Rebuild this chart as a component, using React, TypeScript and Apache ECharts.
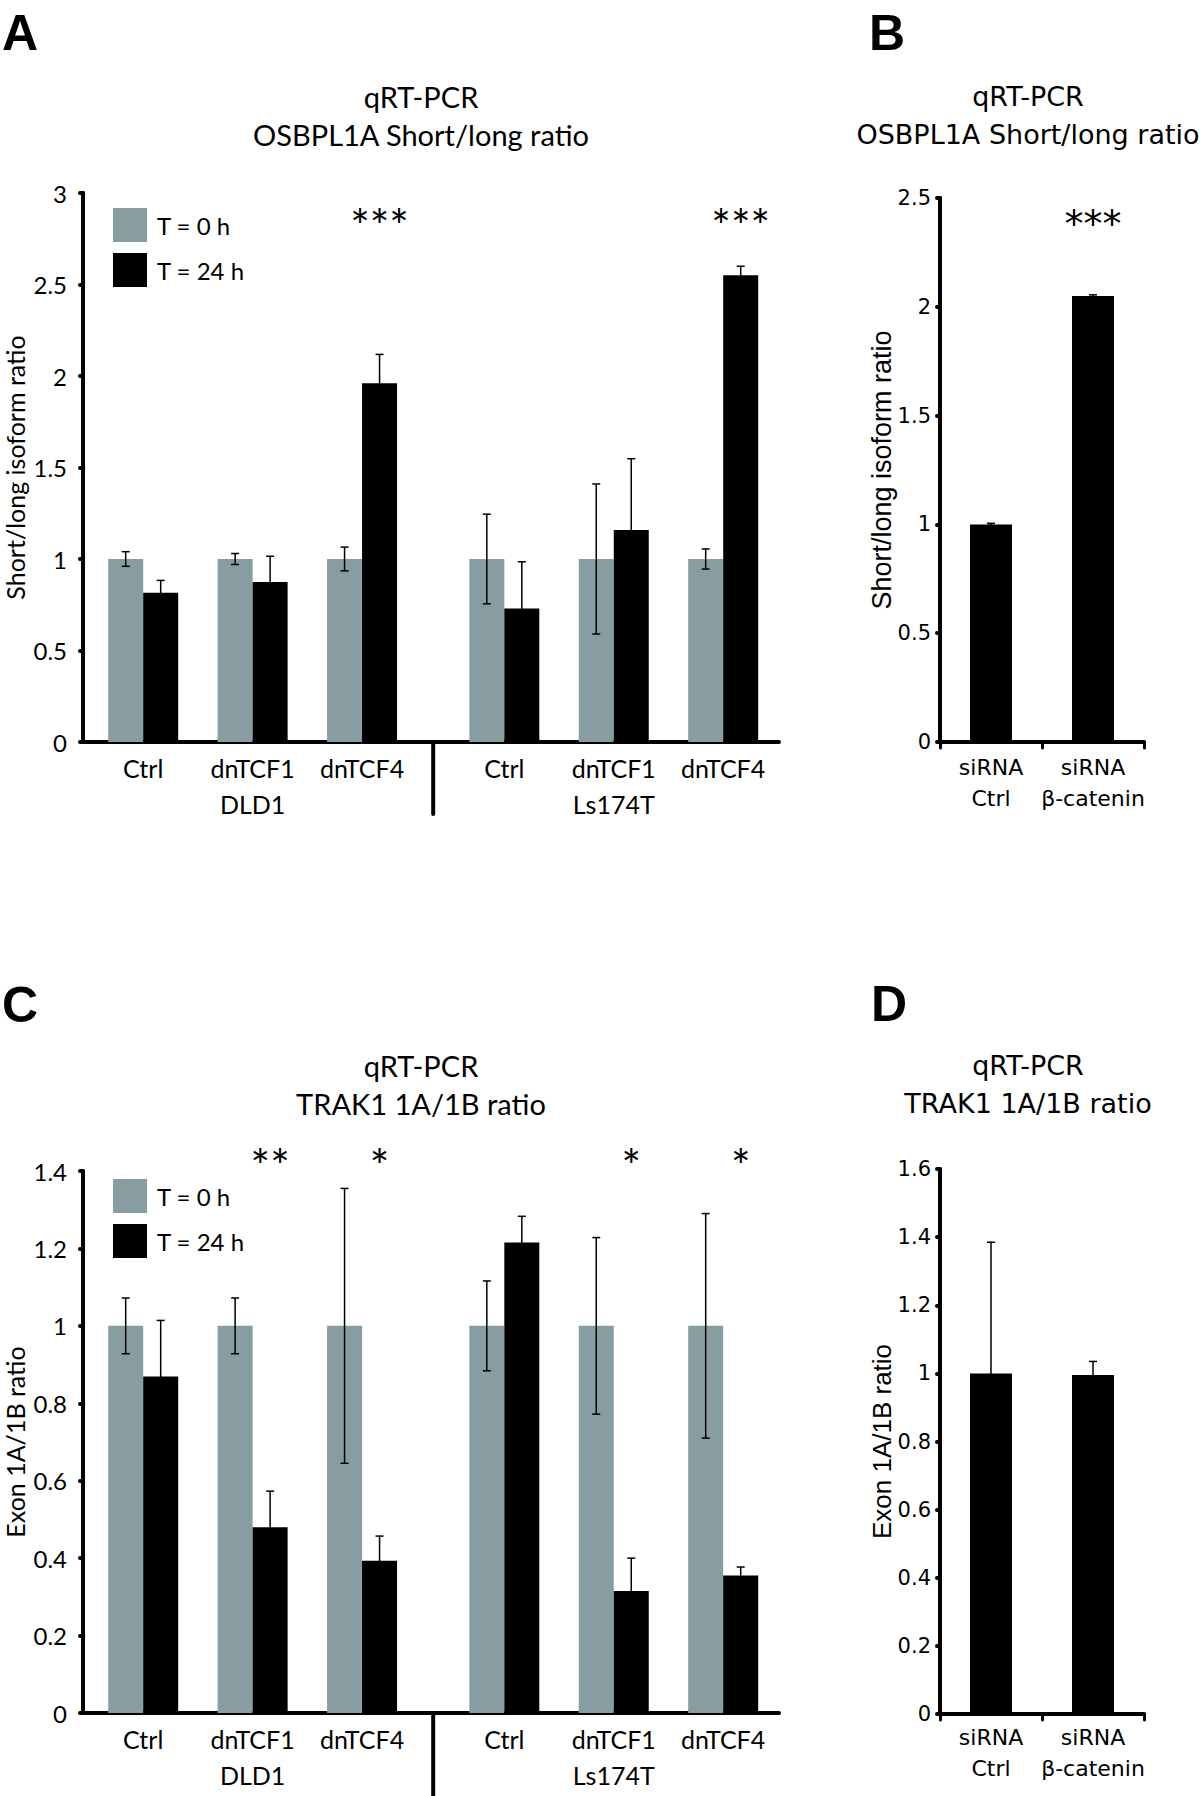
import React, { useEffect, useRef } from "react";
import * as echarts from "echarts";

// ---------- data ----------
const groupLabels = ["Ctrl", "dnTCF1", "dnTCF4", "Ctrl", "dnTCF1", "dnTCF4"];
const cellLineLabels = ["", "DLD1", "", "", "Ls174T", ""];
const groupPos = [0.55, 1.55, 2.55, 3.85, 4.85, 5.85];
const separatorPos = [3.2];
const seriesNames = ["T = 0 h", "T = 24 h"];

// Panel A: OSBPL1A short/long ratio
const osbT0 = [1, 1, 1, 1, 1, 1];
const osbT0Err = [0.04, 0.03, 0.065, 0.245, 0.41, 0.055];
const osbT24 = [0.815, 0.875, 1.96, 0.73, 1.158, 2.55];
const osbT24Err = [0.068, 0.14, 0.158, 0.255, 0.39, 0.05];
const osbStars = ["", "", "***", "", "", "***"];

// Panel C: TRAK1 1A/1B ratio
const trakT0 = [1, 1, 1, 1, 1, 1];
const trakT0Err = [0.072, 0.072, 0.355, 0.116, 0.228, 0.29];
const trakT24 = [0.869, 0.48, 0.393, 1.215, 0.315, 0.355];
const trakT24Err = [0.145, 0.093, 0.064, 0.068, 0.085, 0.022];
const trakStars = ["", "**", "*", "", "*", "*"];

// Panels B / D: siRNA
const sirnaCats = ["siRNA\nCtrl", "siRNA\nβ-catenin"];
const osbSi = [1.0, 2.05];
const osbSiErr = [0.005, 0.005];
const osbSiStars = ["", "***"];
const trakSi = [1.0, 0.995];
const trakSiErr = [0.385, 0.04];

// axis scales
const yA = { min: 0, max: 3, interval: 0.5 };
const yB = { min: 0, max: 2.5, interval: 0.5 };
const yC = { min: 0, max: 1.4, interval: 0.2 };
const yD = { min: 0, max: 1.6, interval: 0.2 };
const xA = { min: 0, max: 6.36 };
const starLevelA = 2.82;
const starLevelB = 2.38;
const starLevelC = 1.415;

// ---------- styles ----------
const GRAY = "#889da1";
const BLACK = "#000000";
const FA = "Lato, 'Open Sans', sans-serif";
const FB = "'DejaVu Sans', Verdana, sans-serif";
const FN = "'Liberation Sans Narrow', 'Liberation Sans', sans-serif";
const FL = "'Liberation Sans', Arial, sans-serif";
const BW = 35;
const BW_SI = 42;
const CAP = 8;

function errorChildren(cx: number, yt: number, yb: number) {
  const st = { stroke: BLACK, lineWidth: 1.5 };
  return [
    { type: "line", shape: { x1: cx, y1: yt, x2: cx, y2: yb }, style: st },
    { type: "line", shape: { x1: cx - CAP / 2, y1: yt, x2: cx + CAP / 2, y2: yt }, style: st },
    { type: "line", shape: { x1: cx - CAP / 2, y1: yb, x2: cx + CAP / 2, y2: yb }, style: st },
  ];
}

function groupedSeries(name: string, color: string, side: number, axisIdx: number, vals: number[], errs: number[]) {
  return {
    type: "custom",
    name,
    xAxisIndex: axisIdx,
    yAxisIndex: axisIdx,
    clip: false,
    itemStyle: { color },
    encode: { x: 0, y: 1 },
    data: vals.map((v, i) => [groupPos[i], v, errs[i]]),
    renderItem: (params: any, api: any) => {
      const x = api.value(0);
      const v = api.value(1);
      const e = api.value(2);
      const p0 = api.coord([x, 0]);
      const p1 = api.coord([x, v]);
      const left = side < 0 ? p0[0] - BW : p0[0];
      const cx = left + BW / 2;
      const yt = api.coord([x, v + e])[1];
      const yb = api.coord([x, v - e])[1];
      return {
        type: "group",
        children: [
          { type: "rect", shape: { x: left, y: p1[1], width: BW, height: p0[1] - p1[1] }, style: { fill: color } },
          ...errorChildren(cx, yt, yb),
        ],
      };
    },
  };
}

function txt(text: string, x: number, y: number, size: number, family: string, extra: any = {}) {
  return {
    type: "text",
    x,
    y,
    style: {
      text,
      fontSize: size,
      fontFamily: family,
      fill: BLACK,
      align: "center",
      verticalAlign: "middle",
      textAlign: "center",
      textVerticalAlign: "middle",
      ...extra,
    },
  };
}

function labelSeries(axisIdx: number, sepLen: number) {
  return [
    {
      type: "custom",
      xAxisIndex: axisIdx,
      yAxisIndex: axisIdx,
      clip: false,
      silent: true,
      encode: { x: 0, y: 1 },
      data: groupPos.map((p) => [p, 0]),
      renderItem: (params: any, api: any) => {
        const i = params.dataIndex;
        const c = api.coord([api.value(0), 0]);
        const ch: any[] = [txt(groupLabels[i], c[0], c[1] + 26, 25, FA)];
        if (cellLineLabels[i]) ch.push(txt(cellLineLabels[i], c[0], c[1] + 62, 25, FA));
        return { type: "group", children: ch };
      },
    },
    {
      type: "custom",
      xAxisIndex: axisIdx,
      yAxisIndex: axisIdx,
      clip: false,
      silent: true,
      encode: { x: 0, y: 1 },
      data: separatorPos.map((p) => [p, 0]),
      renderItem: (params: any, api: any) => {
        const c = api.coord([api.value(0), 0]);
        return {
          type: "line",
          shape: { x1: c[0], y1: c[1], x2: c[0], y2: c[1] + sepLen },
          style: { stroke: BLACK, lineWidth: 4, lineCap: "round" },
        };
      },
    },
  ];
}

function starSeries(axisIdx: number, stars: string[], level: number, positions: number[], offset: number, family: string, size: number) {
  return {
    type: "custom",
    xAxisIndex: axisIdx,
    yAxisIndex: axisIdx,
    clip: false,
    silent: true,
    encode: { x: 0, y: 1 },
    data: positions.map((p) => [p, level]),
    renderItem: (params: any, api: any) => {
      const s = stars[params.dataIndex];
      if (!s) return null;
      const c = api.coord([api.value(0), api.value(1)]);
      return txt(s, c[0] + offset, c[1], size, family);
    },
  };
}

function siErrSeries(axisIdx: number, vals: number[], errs: number[]) {
  return {
    type: "custom",
    xAxisIndex: axisIdx,
    yAxisIndex: axisIdx,
    clip: false,
    silent: true,
    encode: { x: 0, y: 1 },
    data: vals.map((v, i) => [i, v, errs[i]]),
    renderItem: (params: any, api: any) => {
      const x = api.value(0);
      const v = api.value(1);
      const e = api.value(2);
      const cx = api.coord([x, v])[0];
      const yt = api.coord([x, v + e])[1];
      const yb = api.coord([x, v - e])[1];
      return { type: "group", children: errorChildren(cx, yt, yb) };
    },
  };
}

const axisLine = { show: true, lineStyle: { color: BLACK, width: 4, cap: "round" } };
const yTick = { show: true, length: 3, lineStyle: { color: BLACK, width: 4, cap: "round" } };

function yAxisCfg(gridIndex: number, sc: any, name: string, family: string, nameFamily: string, nameSize: number, labelSize: number, labelMargin: number, nameGap: number) {
  return {
    type: "value",
    gridIndex,
    min: sc.min,
    max: sc.max,
    interval: sc.interval,
    name,
    nameLocation: "middle",
    nameGap,
    nameRotate: 90,
    nameMoveOverlap: false,
    nameTextStyle: { fontFamily: nameFamily, fontSize: nameSize, color: BLACK },
    axisLine,
    axisTick: yTick,
    splitLine: { show: false },
    axisLabel: { fontFamily: family, fontSize: labelSize, color: BLACK, margin: labelMargin },
  };
}

function siXAxis(gridIndex: number, margin: number) {
  return {
    type: "category",
    gridIndex,
    data: sirnaCats,
    axisLine,
    axisTick: { show: true, length: 6, lineStyle: { color: BLACK, width: 3, cap: "round" } },
    axisLabel: { interval: 0, fontFamily: FB, fontSize: 22, color: BLACK, margin, lineHeight: 31 },
  };
}

function valXAxis(gridIndex: number) {
  return {
    type: "value",
    gridIndex,
    min: xA.min,
    max: xA.max,
    axisLine,
    axisTick: { show: false },
    axisLabel: { show: false },
    splitLine: { show: false },
  };
}

function legendCfg(top: number) {
  return {
    data: seriesNames,
    left: 113,
    top,
    orient: "vertical",
    itemWidth: 34,
    itemHeight: 34,
    itemGap: 11,
    icon: "rect",
    padding: 0,
    selectedMode: false,
    textStyle: { fontFamily: FA, fontSize: 24, color: BLACK, padding: [0, 0, 0, 5] },
  };
}

function gridCfg(left: number, top: number, width: number, height: number) {
  return { left, top, width, height, containLabel: false, outerBoundsMode: "none" };
}

export default function App() {
  const ref = useRef<HTMLDivElement>(null);
  useEffect(() => {
    if (!ref.current) return;
    const chart = echarts.init(ref.current, undefined, { renderer: "svg" });
    const option: any = {
      animation: false,
      backgroundColor: "#ffffff",
      grid: [
        gridCfg(83, 193, 696, 549),
        gridCfg(940, 198, 204, 544),
        gridCfg(83, 1171, 696, 542),
        gridCfg(940, 1169, 204, 545),
      ],
      xAxis: [valXAxis(0), siXAxis(1, 10), valXAxis(2), siXAxis(3, 8)],
      yAxis: [
        yAxisCfg(0, yA, "Short/long isoform ratio", FA, FA, 25, 24, 16, 56),
        yAxisCfg(1, yB, "Short/long isoform ratio", FB, FN, 27, 21, 9, 45),
        yAxisCfg(2, yC, "Exon 1A/1B ratio", FA, FA, 25, 24, 16, 56),
        yAxisCfg(3, yD, "Exon 1A/1B ratio", FB, FN, 26, 21, 9, 45),
      ],
      legend: [legendCfg(208), legendCfg(1179)],
      graphic: [
        txt("A", 20, 33, 50, FL, { fontWeight: "bold" }),
        txt("B", 887, 33, 50, FL, { fontWeight: "bold" }),
        txt("C", 20, 1005, 50, FL, { fontWeight: "bold" }),
        txt("D", 889, 1004, 50, FL, { fontWeight: "bold" }),
        txt("qRT-PCR", 421, 96, 29, FA),
        txt("OSBPL1A Short/long ratio", 421, 134, 29, FA),
        txt("qRT-PCR", 1028, 96, 27, FB),
        txt("OSBPL1A Short/long ratio", 1028, 134, 27, FB),
        txt("qRT-PCR", 421, 1065, 29, FA),
        txt("TRAK1 1A/1B ratio", 421, 1103, 29, FA),
        txt("qRT-PCR", 1028, 1065, 27, FB),
        txt("TRAK1 1A/1B ratio", 1028, 1103, 27, FB),
      ],
      series: [
        groupedSeries(seriesNames[0], GRAY, -1, 0, osbT0, osbT0Err),
        groupedSeries(seriesNames[1], BLACK, 1, 0, osbT24, osbT24Err),
        ...labelSeries(0, 72),
        starSeries(0, osbStars, starLevelA, groupPos, BW / 2, FA, 46),
        groupedSeries(seriesNames[0], GRAY, -1, 2, trakT0, trakT0Err),
        groupedSeries(seriesNames[1], BLACK, 1, 2, trakT24, trakT24Err),
        ...labelSeries(2, 86),
        starSeries(2, trakStars, starLevelC, groupPos, BW / 2, FA, 46),
        {
          type: "bar",
          name: "siRNA OSBPL1A",
          xAxisIndex: 1,
          yAxisIndex: 1,
          barWidth: BW_SI,
          itemStyle: { color: BLACK },
          data: osbSi,
        },
        siErrSeries(1, osbSi, osbSiErr),
        starSeries(1, osbSiStars, starLevelB, [0, 1], 0, FB, 38),
        {
          type: "bar",
          name: "siRNA TRAK1",
          xAxisIndex: 3,
          yAxisIndex: 3,
          barWidth: BW_SI,
          itemStyle: { color: BLACK },
          data: trakSi,
        },
        siErrSeries(3, trakSi, trakSiErr),
      ],
    };
    chart.setOption(option);
    return () => chart.dispose();
  }, []);
  return <div ref={ref} style={{ position: "absolute", left: 0, top: 0, width: 1200, height: 1796, background: "#fff" }} />;
}
